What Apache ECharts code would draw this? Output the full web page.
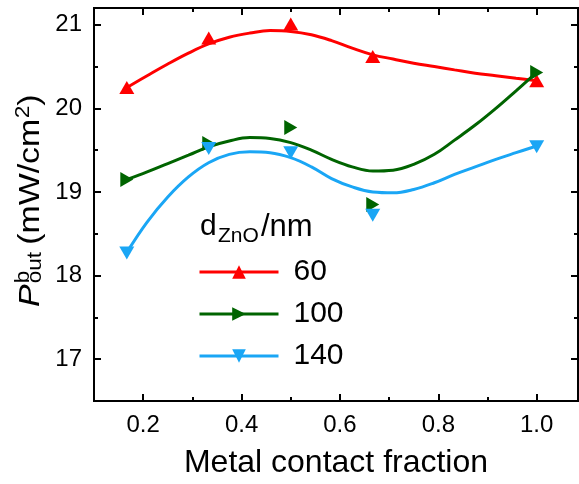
<!DOCTYPE html>
<html>
<head>
<meta charset="utf-8">
<script src="https://cdn.jsdelivr.net/npm/echarts@6/dist/echarts.min.js"></script>
<style>
  html, body { margin: 0; padding: 0; background: #fff; }
  #chart { width: 579px; height: 484px; }
</style>
</head>
<body>
<div id="chart"></div>
<script>
// measured points
var fraction = [0.1667, 0.3333, 0.5, 0.6667, 1.0];
var p60 = [20.25, 20.84, 21.01, 20.62, 20.33];
var p100 = [19.15, 19.58, 19.77, 18.85, 20.43];
var p140 = [18.27, 19.52, 19.47, 18.72, 19.54];

// fitted curves
var fitX = [0.167, 0.208, 0.25, 0.292, 0.333, 0.375, 0.417, 0.458, 0.5, 0.542, 0.583,
            0.625, 0.667, 0.708, 0.75, 0.792, 0.833, 0.875, 0.917, 0.958, 1.0];
var fit60 = [20.25, 20.39, 20.53, 20.66, 20.77, 20.85, 20.90, 20.93, 20.92, 20.88, 20.81,
             20.72, 20.64, 20.59, 20.54, 20.50, 20.46, 20.42, 20.39, 20.36, 20.33];
var fit100 = [19.15, 19.24, 19.34, 19.44, 19.54, 19.61, 19.65, 19.64, 19.59, 19.50, 19.39,
              19.30, 19.25, 19.26, 19.33, 19.45, 19.62, 19.80, 20.00, 20.21, 20.43];
var fit140 = [18.28, 18.64, 18.94, 19.18, 19.35, 19.45, 19.48, 19.47, 19.41, 19.30, 19.16,
              19.06, 19.00, 18.99, 19.03, 19.11, 19.21, 19.30, 19.39, 19.47, 19.55];

var xMajor = [0.2, 0.4, 0.6, 0.8, 1.0];
var xMinor = [0.3, 0.5, 0.7, 0.9];
var yMajor = [17, 18, 19, 20, 21];
var yMinor = [16.5, 17.5, 18.5, 19.5, 20.5];

var names = ['60', '100', '140'];
var colors = ['#ff0000', '#006400', '#1aa6f5'];
var rotates = [0, -90, 180];

function pairs(xs, ys) {
  return xs.map(function (x, i) { return [x, ys[i]]; });
}

var myChart = echarts.init(document.getElementById('chart'));

var font = 'Liberation Sans, Arial, sans-serif';
var xRange = { min: 0.1, max: 1.084 };
var yRange = { min: 16.5, max: 21.2 };

function xAx(pos, ticks, len, labels) {
  return {
    type: 'value', position: pos, min: xRange.min, max: xRange.max,
    axisLine: { show: true, onZero: false, lineStyle: { color: '#000', width: 2 } },
    axisTick: { show: true, inside: true, length: len, customValues: ticks, lineStyle: { color: '#000', width: 2 } },
    axisLabel: labels ? {
      show: true, customValues: xMajor, margin: 12, color: '#000', fontSize: 24, fontFamily: font,
      formatter: function (v) { return v.toFixed(1); }
    } : { show: false },
    splitLine: { show: false }
  };
}
function yAx(pos, ticks, len, labels) {
  return {
    type: 'value', position: pos, min: yRange.min, max: yRange.max,
    axisLine: { show: true, onZero: false, lineStyle: { color: '#000', width: 2 } },
    axisTick: { show: true, inside: true, length: len, customValues: ticks, lineStyle: { color: '#000', width: 2 } },
    axisLabel: labels ? {
      show: true, customValues: yMajor, margin: 12, color: '#000', fontSize: 24, fontFamily: font
    } : { show: false },
    splitLine: { show: false }
  };
}

var xAxes = [xAx('bottom', xMajor, 7, true), xAx('bottom', xMinor, 4, false),
             xAx('top', xMajor, 7, false), xAx('top', xMinor, 4, false)];
xAxes[0].name = 'Metal contact fraction';
xAxes[0].nameLocation = 'middle';
xAxes[0].nameGap = 46;
xAxes[0].nameTextStyle = { color: '#000', fontSize: 32, fontFamily: font };

var yAxes = [yAx('left', yMajor, 7, true), yAx('left', yMinor, 4, false),
             yAx('right', yMajor, 7, false), yAx('right', yMinor, 4, false)];

var fits = [fit60, fit100, fit140];
var pts = [p60, p100, p140];
var series = [];
names.forEach(function (n, i) {
  series.push({
    name: n, type: 'line', smooth: 0.4, data: pairs(fitX, fits[i]),
    symbol: 'triangle', symbolRotate: rotates[i], showSymbol: false,
    lineStyle: { color: colors[i], width: 3 }, itemStyle: { color: colors[i] },
    z: 3
  });
});
names.forEach(function (n, i) {
  series.push({
    name: n + ' pts', type: 'scatter', data: pairs(fraction, pts[i]),
    symbol: 'triangle', symbolRotate: rotates[i], symbolSize: [15, 13],
    itemStyle: { color: colors[i], opacity: 1 }, z: 4
  });
});

option = {
  animation: false,
  grid: { left: 94, right: 1, top: 8, bottom: 80, containLabel: false },
  xAxis: xAxes,
  yAxis: yAxes,
  legend: {
    data: names, orient: 'vertical', left: 198, top: 257, padding: 0,
    itemWidth: 79, itemHeight: 17, itemGap: 12,
    lineStyle: { width: 3 },
    textStyle: { color: '#000', fontSize: 30, fontFamily: font, padding: [0, 0, 0, 10] }
  },
  graphic: [
    {
      type: 'group', left: 200, top: 212,
      children: [
        { type: 'text', x: 0, y: 0, style: { text: 'd', fontSize: 30, fontFamily: font, fill: '#000' } },
        { type: 'text', x: 18, y: 14, style: { text: 'ZnO', fontSize: 21, fontFamily: font, fill: '#000' } },
        { type: 'text', x: 61, y: 0, style: { text: '/nm', fontSize: 31, fontFamily: font, fill: '#000' } }
      ]
    },
    {
      type: 'group', x: 31, y: 307, rotation: Math.PI / 2, scaleX: 1.13,
      children: [
        { type: 'text', x: 0, y: 0, style: { text: 'P', fontSize: 30, fontStyle: 'italic', fontFamily: font, fill: '#000', verticalAlign: 'middle' } },
        { type: 'text', x: 21, y: -8, style: { text: 'b', fontSize: 20, fontFamily: font, fill: '#000', verticalAlign: 'middle' } },
        { type: 'text', x: 21, y: 4, style: { text: 'out', fontSize: 20, fontFamily: font, fill: '#000', verticalAlign: 'middle' } },
        { type: 'text', x: 55, y: 0, style: { text: '(mW/cm', fontSize: 30, fontFamily: font, fill: '#000', verticalAlign: 'middle' } },
        { type: 'text', x: 167, y: -8, style: { text: '2', fontSize: 20, fontFamily: font, fill: '#000', verticalAlign: 'middle' } },
        { type: 'text', x: 178, y: 0, style: { text: ')', fontSize: 30, fontFamily: font, fill: '#000', verticalAlign: 'middle' } }
      ]
    }
  ],
  series: series
};

myChart.setOption(option);
</script>
</body>
</html>
